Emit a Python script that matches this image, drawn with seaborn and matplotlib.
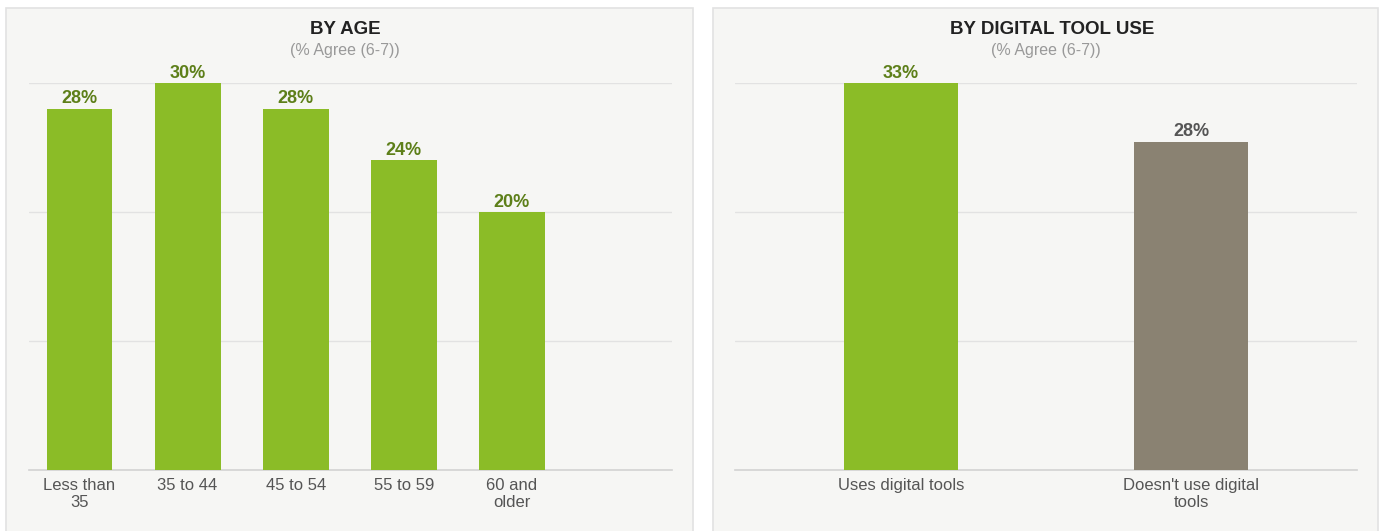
import matplotlib
matplotlib.use("Agg")
import matplotlib.pyplot as plt
from matplotlib.patches import Rectangle
import seaborn as sns
import pandas as pd

# ---- data ----
age_categories = ["Less than\n35", "35 to 44", "45 to 54", "55 to 59", "60 and\nolder"]
age_values = [28, 30, 28, 24, 20]
tool_categories = ["Uses digital tools", "Doesn't use digital\ntools"]
tool_values = [33, 28]

GREEN = "#8bbc27"
GREEN_TXT = "#5d7f19"
GRAYBAR = "#8a8272"
GRAY_TXT = "#555555"
BG = "#f6f6f4"
BORDER = "#e2e2e2"
GRID = "#e2e2e2"
BASE = "#d2d2d2"

sns.set_theme(style="white")
plt.rcParams["font.family"] = ["Liberation Sans", "DejaVu Sans"]

W, H = 1384, 531
fig = plt.figure(figsize=(W / 100, H / 100), dpi=100)
fig.patch.set_facecolor("white")

def fx(px):
    return px / W

def fy(py):
    return 1 - py / H

# panel backgrounds
for (x0, x1) in [(6, 693), (713, 1378)]:
    fig.patches.append(Rectangle((fx(x0), -0.02), fx(x1 - x0), fy(8) + 0.02,
                                 transform=fig.transFigure, facecolor=BG,
                                 edgecolor=BORDER, linewidth=1.2, zorder=-5))

ax_top, ax_bot = 83, 470

# left axes
axL = fig.add_axes([fx(29), fy(ax_bot), fx(672 - 29), (ax_bot - ax_top) / H])
dfL = pd.DataFrame({"cat": age_categories, "val": age_values})
sns.barplot(data=dfL, x="cat", y="val", hue="cat", palette=[GREEN] * len(age_categories),
            legend=False, width=0.61, ax=axL, saturation=1, zorder=3, linewidth=0)
axL.set_xlim(-0.467, 5.48)
axL.set_ylim(0, 30)
axL.set_yticks([10, 20, 30])
for i, v in enumerate(age_values):
    axL.annotate(f"{v}%", (i, v), xytext=(0, 1), textcoords="offset points",
                 ha="center", va="bottom", fontsize=13, fontweight="bold", color=GREEN_TXT)

# right axes
axR = fig.add_axes([fx(735), fy(ax_bot), fx(1357 - 735), (ax_bot - ax_top) / H])
dfR = pd.DataFrame({"cat": tool_categories, "val": tool_values})
sns.barplot(data=dfR, x="cat", y="val", hue="cat", palette=[GREEN, GRAYBAR],
            legend=False, width=0.392, ax=axR, saturation=1, zorder=3, linewidth=0)
axR.set_xlim(-0.571, 1.571)
axR.set_ylim(0, 33)
axR.set_yticks([11, 22, 33])
for i, v in enumerate(tool_values):
    axR.annotate(f"{v}%", (i, v), xytext=(0, 1), textcoords="offset points",
                 ha="center", va="bottom", fontsize=13, fontweight="bold",
                 color=GREEN_TXT if i == 0 else GRAY_TXT)

for ax in (axL, axR):
    ax.set_zorder(2)
    ax.set_facecolor("none")
    ax.set_xlabel("")
    ax.set_ylabel("")
    ax.set_yticklabels([])
    ax.tick_params(axis="y", length=0)
    ax.tick_params(axis="x", length=0, pad=6, labelsize=12, labelcolor=GRAY_TXT)
    ax.grid(axis="y", color=GRID, linewidth=1, zorder=0)
    ax.set_axisbelow(True)
    for s in ("top", "left", "right"):
        ax.spines[s].set_visible(False)
    ax.spines["bottom"].set_color(BASE)
    ax.spines["bottom"].set_linewidth(1.2)
    for lbl in ax.get_xticklabels():
        lbl.set_linespacing(1.15)

# titles
fig.text(fx(345), fy(29.5), "BY AGE", ha="center", va="center",
         fontsize=13.5, fontweight="bold", color="#222222")
fig.text(fx(345), fy(51), "(% Agree (6-7))", ha="center", va="center",
         fontsize=11.5, color="#999999")
fig.text(fx(1052), fy(29.5), "BY DIGITAL TOOL USE", ha="center", va="center",
         fontsize=13.5, fontweight="bold", color="#222222")
fig.text(fx(1046), fy(51), "(% Agree (6-7))", ha="center", va="center",
         fontsize=11.5, color="#999999")

fig.savefig("out.png", dpi=100, facecolor="white")
